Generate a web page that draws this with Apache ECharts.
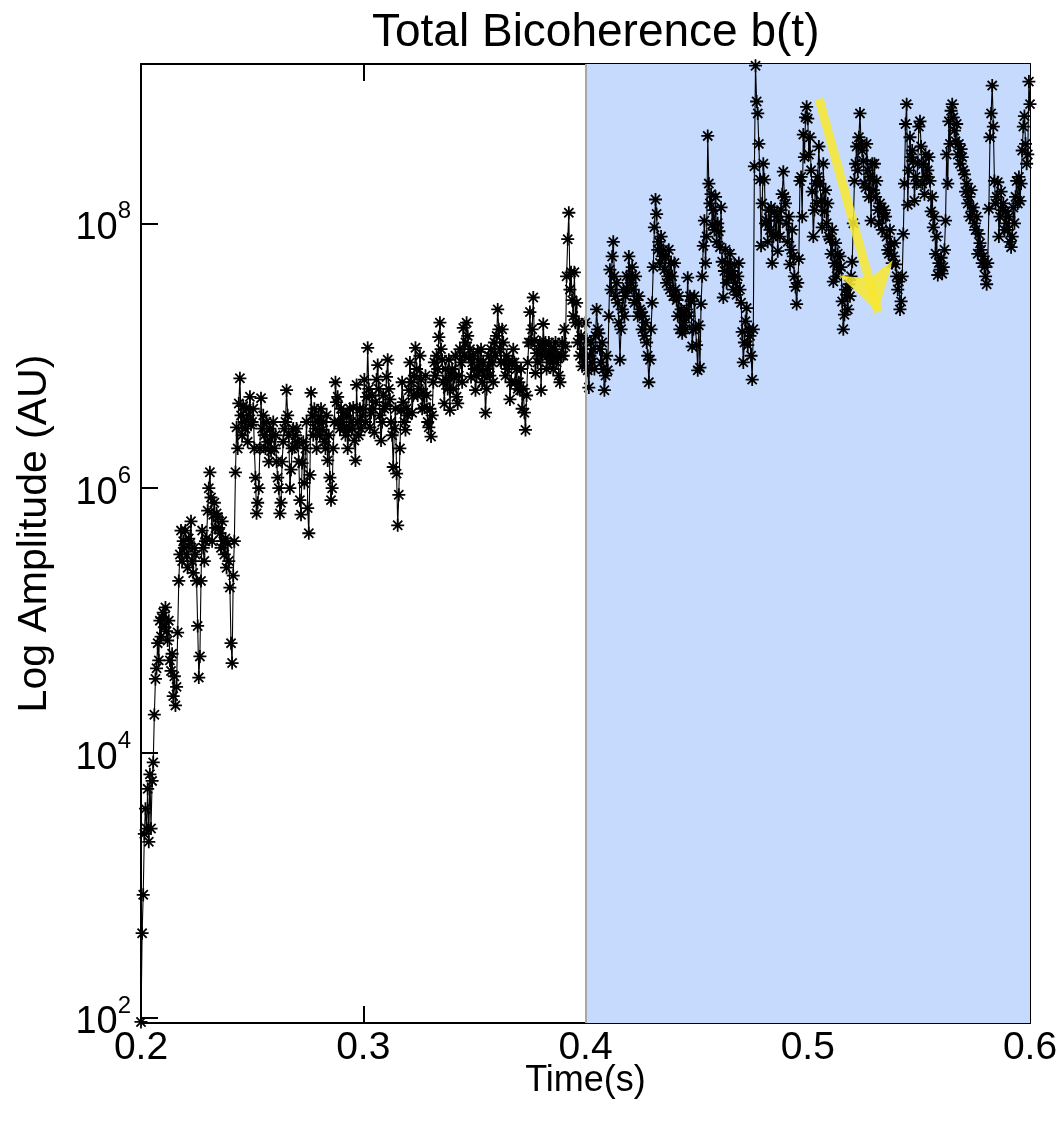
<!DOCTYPE html>
<html>
<head>
<meta charset="utf-8">
<script src="https://cdn.jsdelivr.net/npm/echarts@6/dist/echarts.min.js"></script>
<style>
html,body{margin:0;padding:0;background:#fff;}
#chart{width:1057px;height:1122px;}
</style>
</head>
<body>
<div id="chart"></div>
<script>
// ---- chart content ----
const titleText = 'Total Bicoherence b(t)';
const xAxisTitle = 'Time(s)';
const yAxisTitle = 'Log Amplitude (AU)';
const xTickValues = [0.2, 0.3, 0.4, 0.5, 0.6];
const yTickExponents = [2, 4, 6, 8];          // labels 10^2 ... 10^8
const xRange = [0.2, 0.6];
const yRangeExponent = [1.962, 9.203];        // log10 of axis limits
const timeStart = 0.2;                         // first sample (s)
const timeStep = 0.0005;                       // sampling interval (s)
// log10 of total bicoherence, one value per sample
const logAmplitude = [
1.97,2.64,2.93,3.39,3.58,3.43,3.73,3.33,3.84,3.43,
3.79,3.93,4.29,4.56,4.64,4.83,4.7,5.0,4.88,5.02,
5.06,4.95,5.1,4.92,4.85,5.0,4.7,4.62,4.75,4.43,
4.58,4.36,4.5,4.91,5.3,5.5,5.68,5.45,5.6,5.55,
5.68,5.5,5.4,5.62,5.58,5.75,5.45,5.36,5.55,5.5,
5.3,4.96,4.57,4.73,5.3,5.68,5.55,5.45,5.6,5.62,
5.83,6.0,6.12,5.93,5.6,5.8,5.89,5.7,5.81,5.78,
5.7,5.66,5.55,5.75,5.6,5.5,5.62,5.4,5.58,5.45,
5.25,4.83,4.68,5.34,5.6,6.12,6.46,6.3,6.64,6.83,
6.55,6.4,6.62,6.5,6.45,6.6,6.35,6.55,6.69,6.48,
6.5,6.6,6.3,6.08,5.81,5.89,6.0,6.3,6.68,6.45,
6.55,6.4,6.3,6.5,6.35,6.2,6.45,6.28,6.4,6.5,
6.3,6.4,6.2,6.08,6.0,5.81,5.89,6.2,6.35,6.45,
6.5,6.74,6.55,6.4,6.0,6.14,6.3,6.45,6.31,6.4,
6.45,6.35,6.2,5.91,5.8,6.19,6.35,6.04,6.3,6.5,
5.85,5.66,6.1,6.72,6.55,6.4,6.6,6.45,6.3,6.5,
6.54,6.4,6.6,6.44,6.5,6.35,6.3,6.55,6.21,6.4,
6.08,5.91,6.0,6.3,6.5,6.8,6.65,6.69,6.5,6.45,
6.6,6.5,6.57,6.45,6.4,6.55,6.3,6.44,6.6,6.5,
6.45,6.61,6.36,6.21,6.78,6.5,6.4,6.6,6.45,6.55,
6.6,6.82,6.5,6.69,7.06,6.75,6.46,6.57,6.7,6.6,
6.42,6.65,6.82,6.93,6.75,6.55,6.36,6.5,6.7,6.6,
6.62,6.84,6.97,6.75,6.67,6.5,6.4,6.16,6.45,6.6,
6.11,5.72,5.95,6.3,6.59,6.8,6.65,6.5,6.44,6.6,
6.55,6.74,6.95,6.8,6.57,6.7,6.85,7.06,6.9,6.7,
6.75,7.0,6.82,6.6,6.72,6.61,6.85,6.7,6.5,6.46,
6.6,6.39,6.55,6.8,6.95,6.85,7.0,6.9,7.14,7.25,
7.05,6.97,6.8,6.64,6.9,6.82,6.75,6.97,6.59,6.85,
6.9,6.75,6.84,7.0,6.69,6.64,6.85,7.05,6.95,6.8,
7.21,7.0,7.1,7.25,7.15,6.99,7.05,6.84,6.95,7.0,
6.9,6.74,6.85,7.03,6.95,6.89,7.05,6.8,6.95,6.85,
6.57,6.75,6.9,7.0,6.85,7.05,6.95,6.8,7.1,7.0,
7.15,7.35,7.2,7.05,6.95,7.2,7.1,6.95,6.85,7.0,
6.9,6.95,6.67,6.8,6.95,7.05,6.95,6.8,6.9,6.75,
6.8,6.74,6.9,6.6,6.75,6.57,6.44,6.7,6.95,7.1,
7.33,7.1,7.2,7.44,7.12,6.87,7.02,6.95,7.05,7.1,
6.74,7.0,7.24,7.05,7.1,6.9,7.0,7.1,6.95,7.05,
7.0,6.9,7.05,7.1,6.95,7.0,6.85,6.8,7.0,7.1,
7.0,7.2,7.07,7.6,7.88,8.08,7.5,7.63,7.42,7.3,
7.63,7.25,7.4,7.1,7.25,7.0,7.15,6.92,7.05,6.95,
7.25,7.12,6.89,6.76,7.0,7.1,6.95,7.05,6.9,7.15,
7.35,7.2,7.17,7.05,6.95,7.1,6.9,6.74,6.85,7.0,
6.89,7.3,7.65,7.5,7.75,7.86,7.6,7.45,7.55,7.4,
7.25,6.97,7.2,7.35,7.5,7.3,7.45,7.6,7.5,7.75,
7.6,7.55,7.67,7.5,7.4,7.6,7.42,7.3,7.45,7.35,
7.33,7.2,7.3,7.15,7.25,7.1,7.0,6.8,6.97,7.2,
7.4,7.67,7.97,8.18,8.07,7.8,7.86,7.7,7.9,7.75,
7.8,7.65,7.75,7.55,7.6,7.8,7.5,7.7,7.6,7.45,
7.7,7.5,7.42,7.3,7.45,7.2,7.35,7.17,7.3,7.25,
7.2,7.35,7.59,7.3,7.45,7.41,7.07,7.2,7.45,7.21,
7.08,6.89,7.23,6.91,7.39,7.6,7.83,8.02,7.7,7.9,
8.66,8.3,8.15,8.22,7.99,8.1,7.95,8.2,7.86,8.0,
7.94,7.82,8.12,7.71,7.44,7.64,7.8,7.55,7.7,7.6,
7.77,7.6,7.64,7.5,7.69,7.55,7.46,7.6,7.7,7.5,
7.4,7.18,6.95,7.1,7.26,7.36,7.08,7.2,7.15,7.0,
6.82,7.2,8.43,9.19,8.92,8.83,8.6,8.33,7.83,8.15,
8.45,8.33,8.0,8.02,7.86,8.1,7.95,8.12,7.7,7.9,
8.09,7.92,8.05,7.79,8.02,7.9,8.1,8.22,8.39,8.2,
8.15,8.0,7.86,8.05,7.69,7.8,7.95,7.75,7.6,7.52,
7.39,7.55,7.73,8.32,8.35,8.05,8.67,8.5,8.8,8.88,
8.79,8.52,8.65,8.4,8.24,7.9,8.1,8.3,8.15,8.35,
8.58,8.3,8.17,7.97,8.45,8.09,8.25,8.0,8.15,7.9,
7.88,7.77,7.95,7.56,7.7,7.85,7.6,7.77,7.65,7.75,
7.67,7.41,7.2,7.31,7.5,7.46,7.35,7.54,7.45,7.6,
7.71,8.0,8.32,8.45,8.58,8.4,8.65,8.83,8.6,8.55,
8.47,8.3,8.27,8.6,8.4,8.2,8.35,8.02,8.45,8.25,
8.45,8.2,8.32,8.1,8.0,8.15,8.12,7.95,8.05,8.1,
8.05,7.9,7.8,7.77,7.95,7.84,7.7,7.75,7.85,7.69,
7.6,7.5,7.56,7.35,7.41,7.6,7.92,8.3,8.75,8.9,
8.14,8.4,8.65,8.5,8.55,8.47,8.17,8.35,8.3,8.45,
8.73,8.77,8.58,8.3,8.45,8.22,8.52,8.35,8.4,8.5,
8.32,8.09,8.2,7.97,8.05,7.77,7.9,7.61,7.7,7.65,
7.74,7.62,7.67,7.8,8.02,8.52,8.3,8.77,8.6,8.85,
8.9,8.8,8.7,8.62,8.75,8.52,8.6,8.45,8.56,8.5,
8.4,8.37,8.24,8.3,8.15,8.2,8.05,8.25,8.09,8.12,
8.0,7.95,8.05,7.77,7.92,7.85,7.8,7.7,7.75,7.67,
7.6,7.54,7.7,8.11,8.65,8.83,9.04,8.73,8.32,8.15,
8.2,8.31,7.9,8.05,8.24,8.1,8.15,7.95,8.09,8.0,
7.95,8.05,7.86,7.82,7.9,8.12,8.0,8.2,8.32,8.15,
8.35,8.17,8.3,8.55,8.73,8.81,8.6,8.45,8.52,9.07,
8.9
];
const shadedTimeRange = [0.4, 0.6];
const arrowFrom = [0.5051, 8.94];   // [time, log10 amplitude]
const arrowTo = [0.5316, 7.33];

// ---- build chart ----
const FONT = '"Liberation Sans", Arial, Helvetica, sans-serif';
const seriesData = logAmplitude.map((v, i) => [+(timeStart + i * timeStep).toFixed(4), v]);
const asterisk = 'path://M6 0L6 12M0 6L12 6M1.76 1.76L10.24 10.24M1.76 10.24L10.24 1.76';

const axisLineStyle = { color: '#000', width: 2 };
function xAxisCfg(pos, showLabel) {
  return {
    type: 'value', position: pos, min: xRange[0], max: xRange[1], interval: 0.1,
    axisLine: { show: true, onZero: false, lineStyle: axisLineStyle },
    axisTick: { show: true, inside: true, length: 17, lineStyle: axisLineStyle, customValues: xTickValues },
    axisLabel: { show: showLabel, customValues: xTickValues, fontSize: 39, color: '#000', fontFamily: FONT, margin: 6,
      formatter: v => v.toFixed(1), showMinLabel: true, showMaxLabel: true, hideOverlap: false },
    splitLine: { show: false },
    name: showLabel ? xAxisTitle : '', nameLocation: 'middle', nameGap: 40, nameMoveOverlap: false,
    nameTextStyle: { fontSize: 36, color: '#000', fontFamily: FONT }
  };
}
function yAxisCfg(pos, showLabel) {
  return {
    type: 'value', position: pos, min: yRangeExponent[0], max: yRangeExponent[1],
    axisLine: { show: true, onZero: false, lineStyle: axisLineStyle },
    axisTick: { show: true, inside: true, length: 17, lineStyle: axisLineStyle, customValues: yTickExponents },
    axisLabel: { show: showLabel, customValues: yTickExponents, margin: 10, color: '#000', hideOverlap: false,
      formatter: v => '{b|10}{s|' + Math.round(v) + '}',
      rich: {
        b: { fontSize: 38, lineHeight: 48, fontFamily: FONT, color: '#000', verticalAlign: 'bottom' },
        s: { fontSize: 24, lineHeight: 24, fontFamily: FONT, color: '#000', verticalAlign: 'top' }
      } },
    splitLine: { show: false },
    name: showLabel ? yAxisTitle : '', nameLocation: 'middle', nameGap: 86, nameRotate: 90, nameMoveOverlap: false,
    nameTextStyle: { fontSize: 41, color: '#000', fontFamily: FONT, padding: [0, 0, 0, 20] }
  };
}

const chart = echarts.init(document.getElementById('chart'), null, { renderer: 'canvas' });
chart.setOption({
  animation: false,
  backgroundColor: '#fff',
  title: { text: titleText, left: 367, top: 5,
    textStyle: { fontSize: 46, fontWeight: 'normal', color: '#000', fontFamily: FONT } },
  grid: { left: 141, right: 27, top: 64, bottom: 99, containLabel: false, outerBoundsMode: 'none' },
  xAxis: [xAxisCfg('bottom', true), xAxisCfg('top', false)],
  yAxis: [yAxisCfg('left', true), yAxisCfg('right', false)],
  series: [
    { // shaded region and boundary line
      type: 'line', data: [], z: 1, silent: true,
      markArea: { silent: true, itemStyle: { color: '#C5DAFC' },
        data: [[{ xAxis: shadedTimeRange[0] }, { xAxis: shadedTimeRange[1] }]] },
      markLine: { silent: true, symbol: ['none', 'none'], label: { show: false },
        lineStyle: { color: '#A8A8A8', width: 2, type: 'solid' },
        data: [{ xAxis: shadedTimeRange[0] }] }
    },
    {
      type: 'line', data: seriesData, z: 3,
      showAllSymbol: true, symbol: asterisk, symbolSize: 13,
      lineStyle: { color: '#000', width: 1.1 },
      itemStyle: { color: '#000', borderColor: '#000', borderWidth: 1.8 },
      emphasis: { disabled: true }
    },
    { // yellow arrow annotation
      type: 'line', data: [], z: 5, silent: true,
      markLine: { silent: true, symbol: ['none', 'arrow'], symbolSize: [42, 46], label: { show: false },
        lineStyle: { color: 'rgba(247,231,50,0.88)', width: 9, type: 'solid' },
        itemStyle: { color: 'rgba(247,231,50,0.88)' },
        data: [[{ coord: arrowFrom }, { coord: arrowTo }]] }
    }
  ]
});
</script>
</body>
</html>
